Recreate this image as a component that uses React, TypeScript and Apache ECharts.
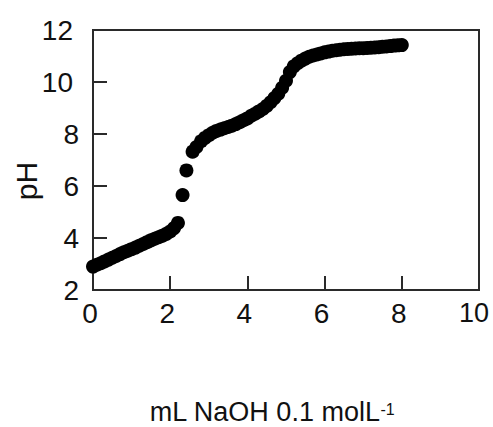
import React, { useEffect, useRef } from "react";
import * as echarts from "echarts";

// mL of NaOH added
const volumes = [
  0.0, 0.1, 0.2, 0.3, 0.4, 0.5, 0.6, 0.7, 0.8, 0.9,
  1.0, 1.1, 1.2, 1.3, 1.4, 1.5, 1.6, 1.7, 1.8, 1.9,
  2.0, 2.1, 2.2, 2.32, 2.42, 2.58, 2.68, 2.8, 2.9,
  3.0, 3.1, 3.2, 3.3, 3.4, 3.5, 3.6, 3.7, 3.8, 3.9,
  4.0, 4.1, 4.2, 4.3, 4.4, 4.5, 4.6, 4.7, 4.8, 4.9,
  5.0, 5.1, 5.2, 5.3, 5.4, 5.5, 5.6, 5.7, 5.8, 5.9,
  6.0, 6.1, 6.2, 6.3, 6.4, 6.5, 6.6, 6.7, 6.8, 6.9,
  7.0, 7.1, 7.2, 7.3, 7.4, 7.5, 7.6, 7.7, 7.8, 7.9, 8.0,
];

// measured pH
const phValues = [
  2.9, 2.97, 3.03, 3.1, 3.17, 3.24, 3.31, 3.38, 3.45, 3.51,
  3.57, 3.63, 3.7, 3.77, 3.84, 3.91, 3.97, 4.03, 4.09, 4.16,
  4.25, 4.38, 4.58, 5.65, 6.6, 7.32, 7.5, 7.72, 7.85,
  7.95, 8.05, 8.12, 8.17, 8.22, 8.27, 8.32, 8.38, 8.45, 8.53,
  8.6, 8.7, 8.78, 8.87, 8.96, 9.08, 9.22, 9.38, 9.55, 9.78,
  10.05, 10.38, 10.6, 10.72, 10.82, 10.9, 10.97, 11.02, 11.06, 11.1,
  11.14, 11.17, 11.2, 11.22, 11.24, 11.26, 11.27, 11.28, 11.29, 11.3,
  11.3, 11.31, 11.32, 11.33, 11.34, 11.36, 11.37, 11.38, 11.4, 11.41, 11.42,
];

const xTicks = [0, 2, 4, 6, 8, 10];
const yTicks = [2, 4, 6, 8, 10, 12];

const xTitle = "mL NaOH 0.1 molL";
const xTitleSup = "-1";
const yTitle = "pH";

const FONT = "'Liberation Sans', Arial, Helvetica, sans-serif";
const LINE = "#2a2a2a";

export default function App() {
  const ref = useRef<HTMLDivElement>(null);

  useEffect(() => {
    if (!ref.current) return;
    const chart = echarts.init(ref.current, undefined, { renderer: "svg" });
    const data = volumes.map((v, i) => [v, phValues[i]]);

    chart.setOption({
      animation: false,
      backgroundColor: "#ffffff",
      grid: {
        left: 93,
        right: 14,
        top: 30,
        bottom: 137,
        show: true,
        borderColor: LINE,
        borderWidth: 2,
        containLabel: false,
        outerBoundsMode: "none",
      },
      xAxis: {
        type: "value",
        min: xTicks[0],
        max: xTicks[xTicks.length - 1],
        interval: 2,
        splitLine: { show: false },
        axisLine: { show: true, lineStyle: { color: LINE, width: 2 } },
        axisTick: { show: true, inside: true, length: 14, lineStyle: { color: LINE, width: 2 } },
        axisLabel: {
          margin: 9,
          fontSize: 28,
          fontFamily: FONT,
          color: "#111",
          formatter: (v: number) => (v >= 10 ? `{w|${v}}` : `{n|${v}}`),
          rich: {
            w: { fontSize: 27, fontFamily: FONT, color: "#111", padding: [0, 10, 0, 0] },
            n: { fontSize: 28, fontFamily: FONT, color: "#111", padding: [0, 6, 0, 0] },
          },
        },
      },
      yAxis: {
        type: "value",
        min: yTicks[0],
        max: yTicks[yTicks.length - 1],
        interval: 2,
        splitLine: { show: false },
        axisLine: { show: true, lineStyle: { color: LINE, width: 2 } },
        axisTick: { show: true, inside: true, length: 14, lineStyle: { color: LINE, width: 2 } },
        axisLabel: {
          margin: 14,
          fontSize: 28,
          fontFamily: FONT,
          color: "#111",
          formatter: (v: number) => (v >= 10 ? `{w|${v}}` : `{n|${v}}`),
          rich: {
            w: { fontSize: 28, fontFamily: FONT, color: "#111", padding: [0, 6, 0, 0] },
            n: { fontSize: 28, fontFamily: FONT, color: "#111" },
          },
        },
      },
      series: [
        {
          type: "scatter",
          data,
          symbol: "circle",
          symbolSize: 14,
          itemStyle: { color: "#000", opacity: 1 },
        },
      ],
      graphic: [
        {
          type: "text",
          id: "ytitle",
          x: 26,
          y: 181,
          rotation: Math.PI / 2,
          style: {
            text: yTitle,
            fontSize: 30,
            fontFamily: FONT,
            fill: "#111",
            align: "center",
            verticalAlign: "middle",
          },
        },
        {
          type: "text",
          id: "xtitle",
          x: 272,
          y: 413,
          style: {
            text: `{m|${xTitle}}{s|${xTitleSup}}`,
            align: "center",
            verticalAlign: "middle",
            rich: {
              m: { fontSize: 27, fontFamily: FONT, fill: "#111", color: "#111", lineHeight: 24, verticalAlign: "bottom" },
              s: { fontSize: 16, fontFamily: FONT, fill: "#111", color: "#111", lineHeight: 24, verticalAlign: "top" },
            },
          },
        },
      ],
    });

    return () => {
      chart.dispose();
    };
  }, []);

  return (
    <div
      ref={ref}
      style={{ position: "fixed", left: 0, top: 0, width: 493, height: 427 }}
    />
  );
}
